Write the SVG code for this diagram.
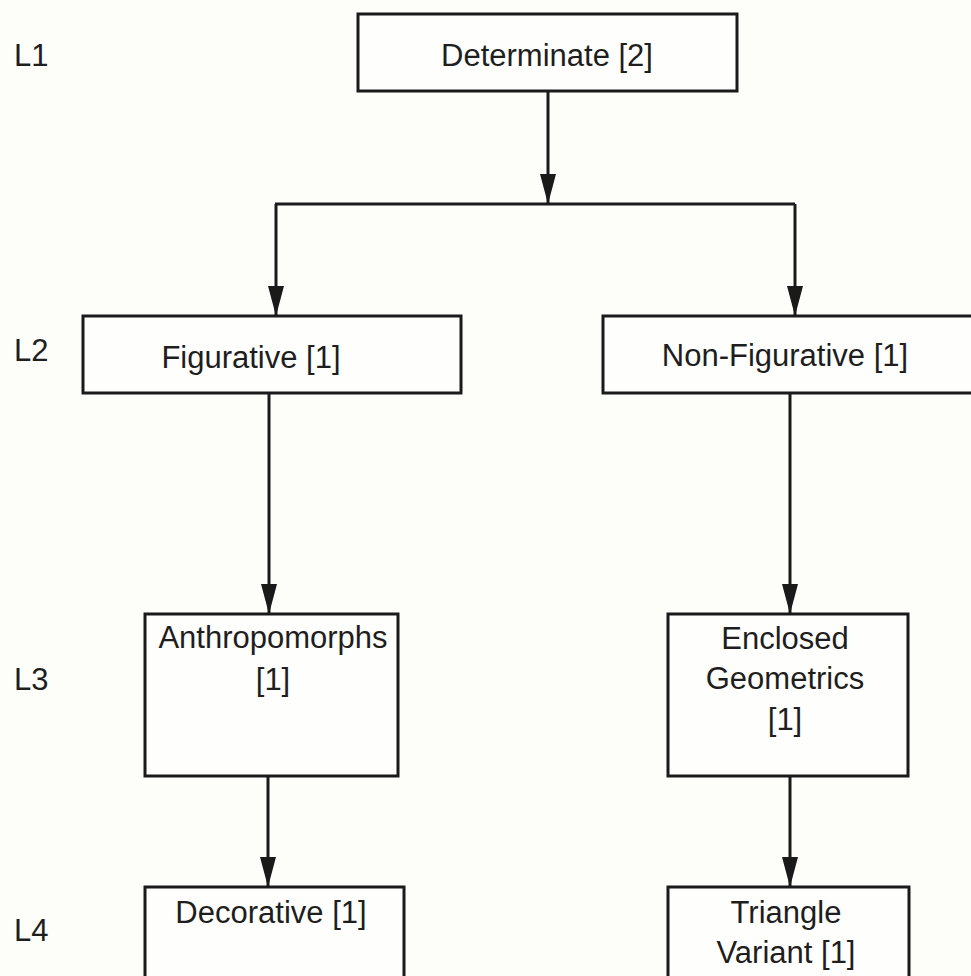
<svg xmlns="http://www.w3.org/2000/svg" width="971" height="976" viewBox="0 0 971 976">
<defs>
<style>
.bg{fill:#fdfdfa}
.box{fill:#fefefc;stroke:#1a1a1a;stroke-width:3}
.t{font-family:"Liberation Sans",Arial,sans-serif;font-size:31px;fill:#1e1e1e;text-anchor:middle}
.lv{font-family:"Liberation Sans",Arial,sans-serif;font-size:31px;fill:#1e1e1e}
.ln{fill:none;stroke:#1a1a1a;stroke-width:3}
</style>
<marker id="ah" markerUnits="userSpaceOnUse" markerWidth="30" markerHeight="16" refX="29" refY="8" orient="auto" viewBox="0 0 30 16">
<path d="M0,0 L30,8 L0,16 Z" fill="#1a1a1a"/>
</marker>
</defs>
<rect class="bg" x="0" y="0" width="971" height="976"/>
<g id="levels">
<text class="lv" x="14" y="66">L1</text>
<text class="lv" x="14" y="361">L2</text>
<text class="lv" x="14" y="690">L3</text>
<text class="lv" x="14" y="941">L4</text>
</g>
<g id="connectors">
<path class="ln" d="M548,91 V203" marker-end="url(#ah)"/>
<path class="ln" d="M275,204 H795"/>
<path class="ln" d="M276,204 V315" marker-end="url(#ah)"/>
<path class="ln" d="M795,204 V315" marker-end="url(#ah)"/>
<path class="ln" d="M269,393 V613" marker-end="url(#ah)"/>
<path class="ln" d="M790,393 V613" marker-end="url(#ah)"/>
<path class="ln" d="M268,776 V886" marker-end="url(#ah)"/>
<path class="ln" d="M790,776 V886" marker-end="url(#ah)"/>
</g>
<g id="n-determinate">
<rect class="box" x="358" y="14" width="379" height="77"/>
<text class="t" x="547" y="66">Determinate [2]</text>
</g>
<g id="n-figurative">
<rect class="box" x="83" y="316" width="378" height="77"/>
<text class="t" x="251" y="368">Figurative [1]</text>
</g>
<g id="n-nonfigurative">
<rect class="box" x="603" y="316" width="380" height="77"/>
<text class="t" x="785" y="366">Non-Figurative [1]</text>
</g>
<g id="n-anthropomorphs">
<rect class="box" x="145" y="614" width="253" height="162"/>
<text class="t" x="273" y="648">Anthropomorphs</text>
<text class="t" x="273" y="690">[1]</text>
</g>
<g id="n-enclosed">
<rect class="box" x="668" y="614" width="240" height="162"/>
<text class="t" x="785" y="649">Enclosed</text>
<text class="t" x="785" y="689">Geometrics</text>
<text class="t" x="785" y="730">[1]</text>
</g>
<g id="n-decorative">
<rect class="box" x="145" y="887" width="259" height="100"/>
<text class="t" x="271" y="923">Decorative [1]</text>
</g>
<g id="n-triangle">
<rect class="box" x="668" y="887" width="241" height="100"/>
<text class="t" x="786" y="923">Triangle</text>
<text class="t" x="786" y="963">Variant [1]</text>
</g>
</svg>
